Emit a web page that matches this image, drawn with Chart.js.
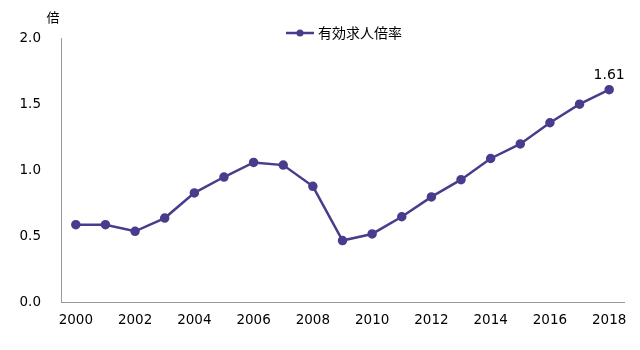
<!DOCTYPE html>
<html lang="ja">
<head>
<meta charset="UTF-8">
<title>有効求人倍率</title>
<script src="https://cdn.jsdelivr.net/npm/chart.js"></script>
<style>
  body { margin: 0; background: #fff; }
  #wrap { width: 640px; height: 350px; }
</style>
</head>
<body>
<div id="wrap"><canvas id="ratioChart"></canvas></div>
<script>
  const years = ['2000', '2001', '2002', '2003', '2004', '2005', '2006', '2007', '2008', '2009',
                 '2010', '2011', '2012', '2013', '2014', '2015', '2016', '2017', '2018'];
  const ratio = [0.59, 0.59, 0.54, 0.64, 0.83, 0.95, 1.06, 1.04, 0.88, 0.47,
                 0.52, 0.65, 0.80, 0.93, 1.09, 1.20, 1.36, 1.50, 1.61];
  const seriesName = '有効求人倍率';
  const unitLabel = '倍';

  const lineColor = '#4a3c8c';
  const fontFamily = '"DejaVu Sans", Verdana, sans-serif';
  const cjkFont = '"Noto Sans CJK JP", sans-serif';

  // legend, unit label and the last value label
  const extras = {
    id: 'extras',
    afterDraw(chart) {
      const c = chart.ctx;
      c.save();
      // legend
      const lx = 286, ly = 33;
      c.strokeStyle = lineColor;
      c.lineWidth = 2.5;
      c.beginPath();
      c.moveTo(lx, ly);
      c.lineTo(lx + 28, ly);
      c.stroke();
      c.fillStyle = lineColor;
      c.beginPath();
      c.arc(lx + 14, ly, 3.5, 0, Math.PI * 2);
      c.fill();
      c.fillStyle = '#000';
      c.font = '14px ' + cjkFont;
      c.textBaseline = 'middle';
      c.textAlign = 'left';
      c.fillText(chart.data.datasets[0].label, lx + 32, ly);
      // unit
      c.font = '13px ' + cjkFont;
      c.textAlign = 'center';
      c.fillText(unitLabel, 53, 17);
      // last value
      const meta = chart.getDatasetMeta(0);
      const last = meta.data[meta.data.length - 1];
      c.font = '14px ' + fontFamily;
      c.textBaseline = 'bottom';
      c.fillText(ratio[ratio.length - 1].toFixed(2), last.x, last.y - 7);
      c.restore();
    }
  };

  new Chart(document.getElementById('ratioChart'), {
    type: 'line',
    data: {
      labels: years,
      datasets: [{
        label: seriesName,
        data: ratio,
        borderColor: lineColor,
        backgroundColor: lineColor,
        borderWidth: 2.5,
        pointRadius: 3.5,
        pointHoverRadius: 3.5,
        tension: 0
      }]
    },
    options: {
      responsive: true,
      maintainAspectRatio: false,
      animation: false,
      layout: { padding: { top: 38, right: 16, bottom: 11, left: 0 } },
      plugins: {
        legend: { display: false },
        tooltip: { enabled: false }
      },
      scales: {
        x: {
          offset: true,
          grid: { display: false, drawTicks: false },
          border: { color: '#999', width: 1 },
          ticks: {
            autoSkip: false,
            maxRotation: 0,
            color: '#000',
            padding: 10,
            font: { family: fontFamily, size: 13.5 },
            callback: function (val, i) { return i % 2 === 0 ? this.getLabelForValue(val) : ''; }
          }
        },
        y: {
          min: 0,
          max: 2,
          grid: { display: false, drawTicks: false },
          border: { color: '#999', width: 1 },
          afterFit(scale) { scale.width = 61; },
          ticks: {
            stepSize: 0.5,
            color: '#000',
            padding: 20,
            font: { family: fontFamily, size: 13.5 },
            callback: (v) => v.toFixed(1)
          }
        }
      }
    },
    plugins: [extras]
  });
</script>
</body>
</html>
